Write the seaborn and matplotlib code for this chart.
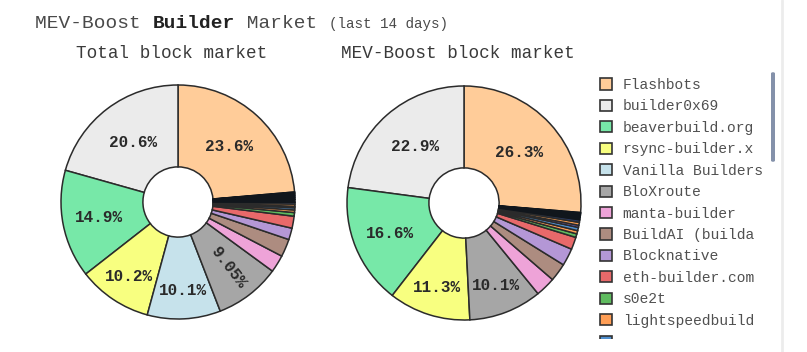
import numpy as np
import seaborn as sns
import matplotlib.pyplot as plt
from matplotlib.patches import Patch, FancyBboxPatch, Rectangle
from matplotlib.lines import Line2D

# builders in legend order (the legend panel only shows the first twelve)
builders = ["Flashbots", "builder0x69", "beaverbuild.org", "rsync-builder.x",
            "Vanilla Builders", "BloXroute", "manta-builder", "BuildAI (builda",
            "Blocknative", "eth-builder.com", "s0e2t", "lightspeedbuild",
            "Eden Network", "nfactorial.xyz", "payload.de", "bob the builder"]
builder_colors = ["#ffcc99", "#ebebeb", "#77e8a8", "#f8ff80",
                  "#c6e2eb", "#a6a6a6", "#eea3d8", "#ad8c80",
                  "#b497d6", "#e8696a", "#5fbb5f", "#ff9e55",
                  "#4f8fcf", "#7f5fcf", "#f39a50", "#2a3d6e"]

# share of blocks (%) - all blocks vs MEV-Boost blocks
total_share = [23.6, 20.6, 14.9, 10.2, 10.1, 9.05, 2.4, 2.45,
               1.6, 1.65, 0.5, 0.35, 0.3, 0.2, 0.3, 0.25]
boost_share = [26.3, 22.9, 16.6, 11.3, 0.0, 10.1, 2.75, 2.5,
               2.4, 1.7, 0.5, 0.45, 0.45, 0.3, 0.4, 0.35]

# long tail of tiny builders (drawn almost black)
total_tail = [0.4, 0.3, 0.25, 0.2, 0.15, 0.1]
boost_tail = [0.3, 0.25, 0.2, 0.15, 0.1]
tail_color = "#11161c"

sns.set_theme(style="white")
plt.rcParams['font.family'] = ['Liberation Mono', 'DejaVu Sans Mono']

fig = plt.figure(figsize=(8.07, 3.52), dpi=100)
W, H = 807, 352


def donut(ax, shares, tail):
    vals, cols = [], []
    for v, c in zip(shares, builder_colors):
        if v > 0:
            vals.append(v)
            cols.append(c)
    n_main = len(vals)
    vals += tail
    cols += [tail_color] * len(tail)
    start = 90 - 360 * vals[0] / sum(vals)
    wedges, _ = ax.pie(vals, colors=cols, startangle=start, counterclock=True,
                       wedgeprops=dict(width=0.7, edgecolor="#2b2b2b", linewidth=1.1))
    for w in wedges[n_main:]:
        w.set_edgecolor(tail_color)
    for w, v in zip(wedges, vals):
        if v < 5:
            continue
        mid = (w.theta1 + w.theta2) / 2
        if v >= 20:
            r = 0.64
        elif v >= 14:
            r = 0.685
        elif v >= 10:
            r = 0.76
        else:
            r = 0.70
        rot = mid - 360 if v < 10 else 0
        ax.text(r * np.cos(np.deg2rad(mid)), r * np.sin(np.deg2rad(mid)), f"{v:.3g}%",
                ha="center", va="center", fontsize=11.5, fontweight="bold",
                color="#2a2a2a", rotation=rot, rotation_mode="anchor")
    ax.set_xlim(-1.02, 1.02)
    ax.set_ylim(-1.02, 1.02)
    ax.set_aspect("equal")
    ax.axis("off")


R = 117
size = 2.04 * R
ax1 = fig.add_axes([(178 - size / 2) / W, (H - 202 - size / 2) / H, size / W, size / H])
ax2 = fig.add_axes([(464 - size / 2) / W, (H - 203 - size / 2) / H, size / W, size / H])
donut(ax1, total_share, total_tail)
donut(ax2, boost_share, boost_tail)

# title built from pieces
fig.canvas.draw()
renderer = fig.canvas.get_renderer()
x = 35 / W
for txt, kw in [("MEV-Boost ", dict(fontsize=14, color="#4a4a4a")),
                ("Builder", dict(fontsize=14, color="#222222", fontweight="bold")),
                (" Market ", dict(fontsize=14, color="#4a4a4a")),
                ("(last 14 days)", dict(fontsize=10.3, color="#4a4a4a"))]:
    t = fig.text(x, 1 - 28 / H, txt, ha="left", va="baseline", **kw)
    x += t.get_window_extent(renderer).width / W

fig.text(172 / W, 1 - 54 / H, "Total block market", ha="center", va="center",
         fontsize=12.7, color="#3a3a3a")
fig.text(458 / W, 1 - 54 / H, "MEV-Boost block market", ha="center", va="center",
         fontsize=12.7, color="#3a3a3a")

# legend: twelve visible rows, the next one is cut by the scroll panel
n_show = 12
handles = [Patch(facecolor=c, edgecolor="#333333", linewidth=1.2)
           for c in builder_colors[:n_show + 1]]
labels = builders[:n_show] + [""]
fig.legend(handles, labels, loc="upper left", bbox_to_anchor=(600 / W, 1 - 78 / H),
           frameon=False, fontsize=10.5, handlelength=0.8, handleheight=0.8,
           handletextpad=0.75, labelspacing=0.51, borderaxespad=0, borderpad=0,
           labelcolor="#505050")
fig.patches.append(Rectangle((590 / W, 0), 180 / W, 13 / H, transform=fig.transFigure,
                             facecolor="white", edgecolor="none", zorder=10))

# legend scrollbar and panel border
fig.patches.append(FancyBboxPatch((771 / W, 1 - 162 / H), 4 / W, 90 / H,
                                  boxstyle="round,pad=0,rounding_size=0.004",
                                  transform=fig.transFigure, facecolor="#8491aa",
                                  edgecolor="none"))
fig.lines.append(Line2D([782 / W, 782 / W], [0, 1], transform=fig.transFigure,
                        color="#ececec", linewidth=2))

fig.savefig("out.png", dpi=100)
